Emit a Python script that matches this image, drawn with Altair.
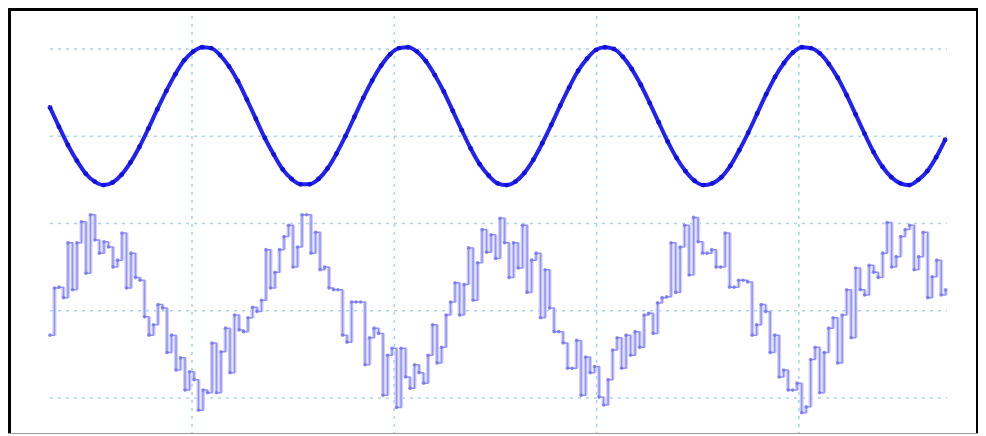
import altair as alt
import pandas as pd

# ---- data (time in microseconds, level in divisions) ----
# Channel 1: clean sine, uniform time base
CH1_T0 = 59.6
CH1_DT = 8.85
CH1_V = [3.33, 3.11, 2.90, 2.72, 2.57, 2.48, 2.44, 2.47, 2.56, 2.70,
         2.88, 3.09, 3.31, 3.52, 3.71, 3.87, 3.97, 4.02, 4.01, 3.93,
         3.80, 3.63, 3.42, 3.20, 2.98, 2.79, 2.62, 2.51, 2.45, 2.45,
         2.51, 2.63, 2.80, 3.00, 3.22, 3.44, 3.64, 3.81, 3.94, 4.01,
         4.02, 3.97, 3.86, 3.70, 3.51, 3.29, 3.07, 2.86, 2.68, 2.55,
         2.46, 2.44, 2.48, 2.58, 2.73, 2.92, 3.13, 3.35, 3.56, 3.75,
         3.89, 3.99, 4.02, 4.00, 3.91, 3.77, 3.59, 3.38, 3.16, 2.94,
         2.75, 2.60, 2.49, 2.44, 2.46, 2.53, 2.66, 2.84, 3.04, 3.26,
         3.48, 3.68, 3.84, 3.96, 4.02, 4.01, 3.95, 3.83, 3.67, 3.47,
         3.25, 3.03, 2.82, 2.65, 2.53, 2.46, 2.44, 2.50, 2.60, 2.76,
         2.96]

# Channel 2: sampled / held noisy signal, uniform sample interval
CH2_T0 = 59.6
CH2_DT = 4.45
CH2_V = [0.72, 1.26, 1.27, 1.15, 1.78, 1.24, 1.78, 2.02, 1.43, 2.10,
         1.81, 1.66, 1.79, 1.73, 1.50, 1.58, 1.89, 1.26, 1.66, 1.38,
         1.35, 0.93, 0.72, 0.84, 1.07, 1.03, 0.52, 0.72, 0.32, 0.46,
         0.09, 0.30, 0.21, -0.14, 0.09, 0.06, 0.63, 0.06, 0.53, 0.80,
         0.29, 0.95, 0.78, 0.76, 0.92, 1.04, 0.99, 1.12, 1.70, 1.26,
         1.44, 1.70, 1.85, 1.98, 1.50, 1.73, 2.10, 2.10, 1.66, 1.90,
         1.47, 1.50, 1.26, 1.24, 1.24, 0.72, 0.64, 1.10, 1.10, 1.10,
         0.38, 0.69, 0.80, 0.74, 0.03, 0.49, 0.57, -0.11, 0.57, 0.24,
         0.11, 0.38, 0.29, 0.17, 0.49, 0.84, 0.40, 0.58, 0.95, 1.10,
         1.32, 0.95, 1.30, 1.72, 1.12, 1.55, 1.93, 1.67, 1.87, 1.60,
         2.06, 1.78, 1.38, 1.78, 1.49, 1.98, 1.21, 1.58, 1.66, 0.92,
         1.47, 1.03, 0.76, 0.76, 0.63, 0.34, 0.34, 0.66, 0.03, 0.47,
         0.29, 0.36, 0.01, -0.08, 0.21, 0.55, 0.69, 0.34, 0.72, 0.49,
         0.76, 0.58, 0.95, 0.97, 0.74, 1.09, 1.15, 1.16, 1.78, 1.21,
         1.73, 1.98, 1.41, 2.07, 1.79, 1.66, 1.66, 1.70, 1.50, 1.50,
         1.89, 1.27, 1.27, 1.35, 1.35, 1.33, 0.72, 0.84, 1.07, 0.99,
         0.52, 0.72, 0.24, 0.32, 0.09, 0.09, 0.17, -0.17, -0.10, 0.44,
         0.58, 0.06, 0.52, 0.80, 0.92, 0.40, 0.95, 1.24, 0.69, 1.49,
         1.24, 1.18, 1.52, 1.44, 1.38, 1.66, 2.01, 1.50, 1.62, 1.85,
         1.93, 1.98, 1.47, 1.62, 1.90, 1.15, 1.39, 1.58, 1.18, 1.24]

# Graticule
GRID_T = [200, 400, 600, 800]
GRID_V = [0, 1, 2, 3, 4]
GRID_T_START = 59.6
GRID_T_END = 946.4

X_DOMAIN = [18.1, 977.1]
Y_DOMAIN = [-0.413, 4.47]

W, H = 970, 426

# ---- tables ----
ch1 = pd.DataFrame({"t": [CH1_T0 + i * CH1_DT for i in range(len(CH1_V))], "v": CH1_V})
ch2_t = [CH2_T0 + i * CH2_DT for i in range(len(CH2_V))]
ch2 = pd.DataFrame({"t": ch2_t, "v": CH2_V})
ch2_edges = pd.DataFrame({"t": ch2_t[1:], "v": CH2_V[:-1], "v2": CH2_V[1:]})
vgrid = pd.DataFrame({"t": GRID_T})
hgrid = pd.DataFrame({"v": GRID_V, "t": [GRID_T_START] * len(GRID_V), "t2": [GRID_T_END] * len(GRID_V)})

xs = alt.Scale(domain=X_DOMAIN, nice=False, zero=False)
ys = alt.Scale(domain=Y_DOMAIN, nice=False, zero=False)
X = alt.X("t:Q", scale=xs, axis=None)
Y = alt.Y("v:Q", scale=ys, axis=None)

GRID_COLOR = "#a6d6ea"

vg = alt.Chart(vgrid).mark_rule(color=GRID_COLOR, strokeWidth=1.6, strokeDash=[3, 5]).encode(
    x=X, y=alt.value(0), y2=alt.value(H))
hg = alt.Chart(hgrid).mark_rule(color=GRID_COLOR, strokeWidth=1.6, strokeDash=[3, 5]).encode(
    x=X, x2="t2:Q", y=Y)

bands = alt.Chart(ch2_edges).mark_rule(color="#cfcffd", strokeWidth=4).encode(
    x=X, y=Y, y2="v2:Q")
ch2_line = alt.Chart(ch2).mark_line(interpolate="step-after", color="#9292f8", strokeWidth=1.5).encode(x=X, y=Y)
ch2_pts = alt.Chart(ch2).mark_circle(color="#7272f0", size=13, opacity=0.8).encode(x=X, y=Y)

ch1_line = alt.Chart(ch1).mark_line(interpolate="monotone", color="#2222f2", strokeWidth=4).encode(x=X, y=Y)
ch1_pts = alt.Chart(ch1).mark_circle(color="#0e0ed8", size=24, opacity=0.9).encode(x=X, y=Y)

one = alt.Data(values=[{}])
top = alt.Chart(one).mark_rule(color="black", strokeWidth=3).encode(
    x=alt.value(0), x2=alt.value(W), y=alt.value(1.5))
left = alt.Chart(one).mark_rule(color="black", strokeWidth=3).encode(
    x=alt.value(1.5), y=alt.value(0), y2=alt.value(H))
right = alt.Chart(one).mark_rule(color="black", strokeWidth=2).encode(
    x=alt.value(W - 1), y=alt.value(0), y2=alt.value(H))
bottom = alt.Chart(one).mark_rule(color="#9a9a9a", strokeWidth=1).encode(
    x=alt.value(0), x2=alt.value(W), y=alt.value(H - 0.5))

chart = alt.layer(vg, hg, bands, ch2_line, ch2_pts, ch1_line, ch1_pts, top, left, right, bottom).properties(
    width=W, height=H, padding=0, background="white",
    autosize=alt.AutoSizeParams(type="none"),
).configure_view(stroke=None)

chart.save("out.html", embed_options={"renderer": "svg", "actions": False})
